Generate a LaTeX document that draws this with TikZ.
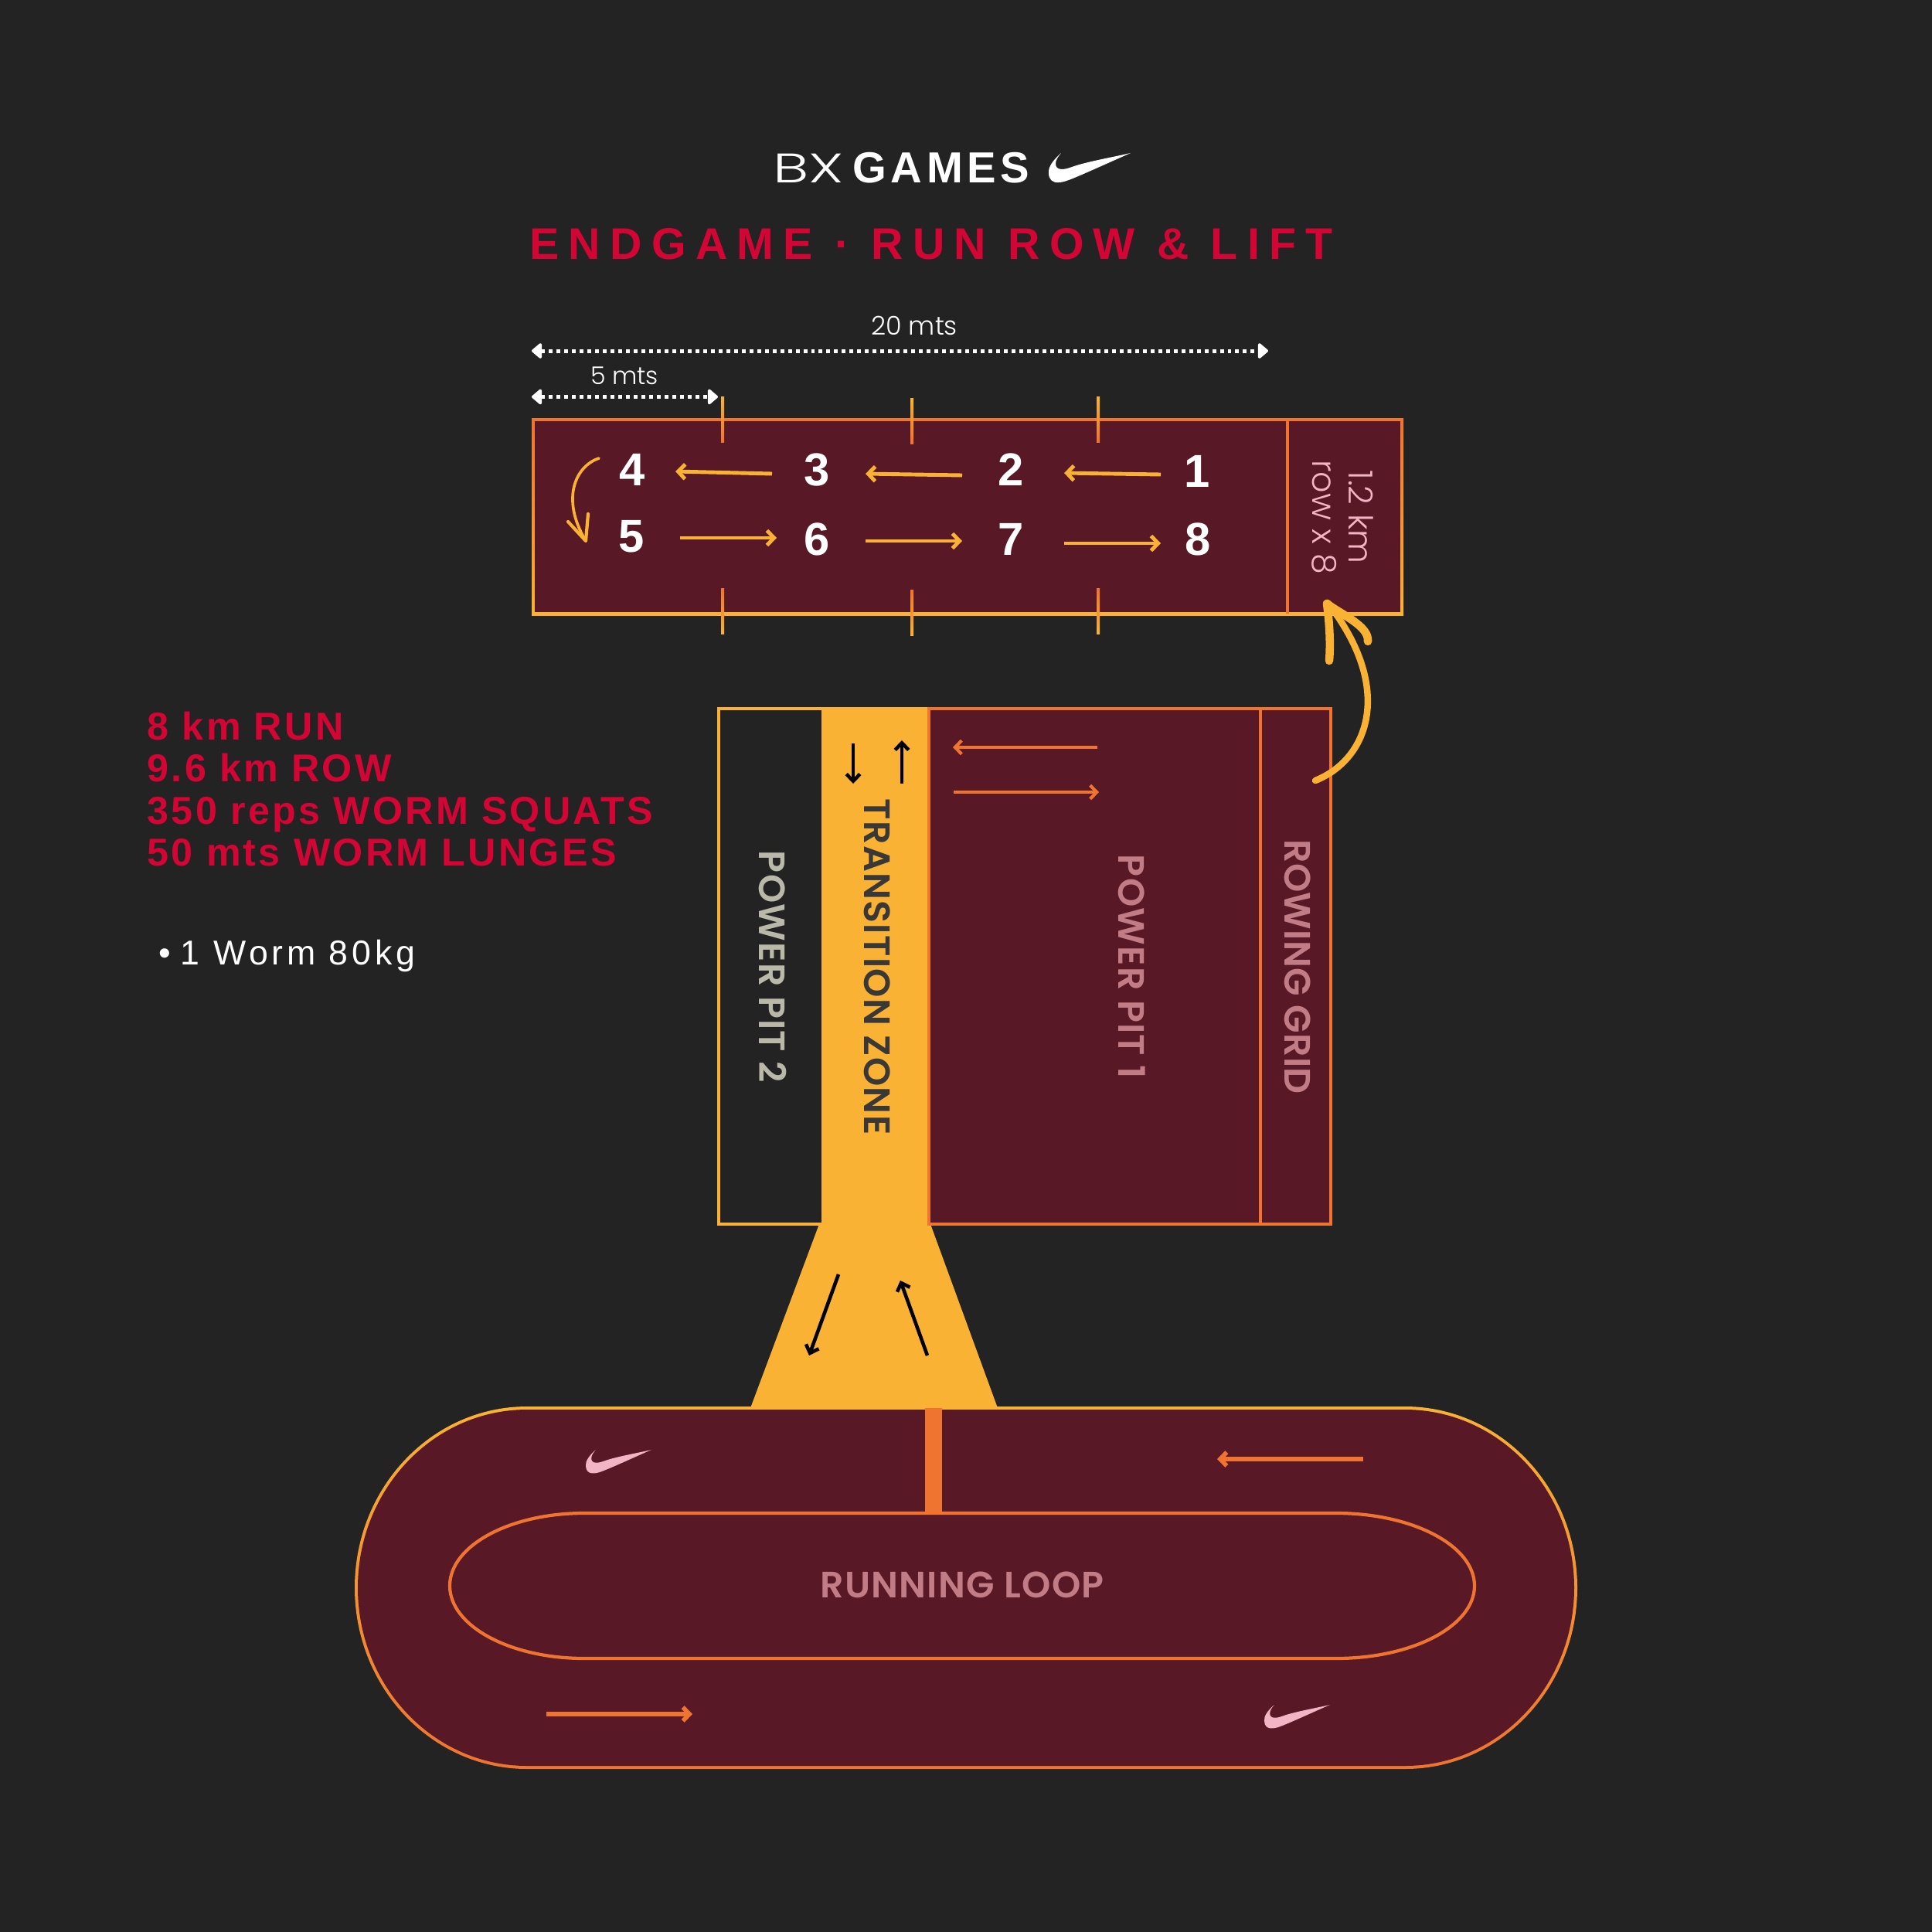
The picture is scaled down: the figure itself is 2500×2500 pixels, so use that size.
\documentclass[tikz,border=0pt]{standalone}
\usepackage{fontspec}
\setmainfont{Liberation Sans}
\newfontfamily\lightfont{Poppins Light}
\newfontfamily\zonefont{Poppins SemiBold}
\usetikzlibrary{arrows.meta}
\definecolor{pagebg}{HTML}{222322}
\definecolor{pitred}{HTML}{581825}
\definecolor{runyellow}{HTML}{F9B233}
\definecolor{runorange}{HTML}{EE7430}
\definecolor{crimson}{HTML}{D30535}
\definecolor{zonepink}{HTML}{C27C85}
\definecolor{softpink}{HTML}{F2B5C5}
\definecolor{zonegrey}{HTML}{B9B8A9}
\definecolor{zonedark}{HTML}{3A3836}

\begin{document}
\begin{tikzpicture}[
    x=0.1mm, y=-0.1mm,
    num/.style={text=white, inner sep=0pt,
                font=\fontsize{17pt}{17pt}\selectfont\bfseries},
    zone/.style={rotate=-90, inner sep=0pt, text=zonepink,
                 font=\fontsize{13.5pt}{14pt}\zonefont\addfontfeature{LetterSpace=2.8}},
    dimtext/.style={text=white, inner sep=0pt, font=\lightfont},
    rowtext/.style={rotate=-90, inner sep=0pt, text=softpink,
                    font=\fontsize{12.2pt}{14pt}\lightfont},
    dimarr/.style={<->, >={Triangle[round,length=4pt,width=6.5pt]}, white,
                   line width=1.42pt, dash pattern=on 1.42pt off 1.42pt},
    arr/.style={->, >={Straight Barb[length=2.6pt,width=5.4pt]},
                line width=1.4pt, runyellow},
    pitarr/.style={->, >={Straight Barb[length=2.4pt,width=5pt]},
                   line width=1.2pt, runorange},
    blackarr/.style={->, >={Straight Barb[length=2.6pt,width=5pt]},
                     line width=1.3pt, black},
    hand/.style={runyellow, line cap=round, line join=round},
    pics/swoosh/.style={code={
      \fill[#1] (16,0) .. controls (6,9) and (-1,18) .. (0,26)
        .. controls (0,34) and (5,39) .. (13,38)
        .. controls (22,38) and (34,32) .. (106,0)
        .. controls (80,6) and (50,11) .. (30,18)
        .. controls (20,22) and (9,23) .. (9,14)
        .. controls (9,9) and (12,5) .. (16,0) -- cycle;
    }}
  ]
  \useasboundingbox (0,0) rectangle (2500,2500);
  \fill[pagebg] (0,0) rectangle (2500,2500);

  % heading
  \node[inner sep=0pt, text=white, font=\fontsize{15.2pt}{16pt}\lightfont] (bx) at (1046,218) {\scalebox{1.45}[1]{BX}};
  \node[inner sep=0pt, text=white, font=\fontsize{16pt}{16pt}\selectfont\bfseries\addfontfeature{LetterSpace=10}]
    (games) at (1218,217) {GAMES};
  \pic at (1357,198) {swoosh=white};
  \node[inner sep=0pt, text=crimson, font=\fontsize{16.3pt}{18pt}\selectfont\bfseries\addfontfeature{LetterSpace=21.5}]
    (title) at (1205,316) {ENDGAME · RUN ROW \& LIFT};

  % left list
  \node[anchor=north west, inner sep=0pt, align=left, text=crimson,
        font=\fontsize{14.3pt}{15.5pt}\selectfont\bfseries\addfontfeature{LetterSpace=6.5}]
    (list) at (190,920) {8 km RUN\\9.6 km ROW\\350 reps WORM SQUATS\\50 mts WORM LUNGES};
  \node[anchor=base west, inner sep=0pt, text=white,
        font=\fontsize{12.7pt}{14pt}\selectfont\addfontfeature{LetterSpace=10.8}]
    (worm) at (205,1248) {•\hspace{3.6pt}1 Worm 80kg};

  % dimensions
  \coordinate (dimA) at (688,454);
  \coordinate (dimB) at (1641,454);
  \coordinate (dimC) at (688,513.5);
  \coordinate (dimD) at (929,513.5);
  \draw[dimarr] (dimA) -- (dimB);
  \draw[dimarr] (dimC) -- (dimD);
  \node[dimtext, font=\fontsize{9.5pt}{12pt}\lightfont] (dim20) at (1183,421) {20 mts};
  \node[dimtext, font=\fontsize{9pt}{12pt}\lightfont] (dim5) at (808,486) {5 mts};

  % rowing box
  \shade[top color=runorange, bottom color=runyellow] (688,541) rectangle (1816,796);
  \fill[pitred] (692,545) rectangle (1812,792);
  \fill[runorange] (1664,543) rectangle (1668,794);
  \foreach \tx/\ty in {935/513,1180/515,1421/513} {
    \shade[top color=runyellow, bottom color=runorange] (\tx-2,\ty) rectangle (\tx+2,\ty+59);
    \shade[top color=runorange, bottom color=runyellow] (\tx-2,\ty+248) rectangle (\tx+2,\ty+307);
  }
  \node[num] (n1) at (1549,610) {1};
  \node[num] (n2) at (1308,608) {2};
  \node[num] (n3) at (1057,608) {3};
  \node[num] (n4) at (818,608) {4};
  \node[num] (n5) at (817,694) {5};
  \node[num] (n6) at (1057,698) {6};
  \node[num] (n7) at (1308,698) {7};
  \node[num] (n8) at (1550,698) {8};
  \draw[arr] ([shift={(-47,4)}]n1.center) -- ([shift={(69,4)}]n2.center);
  \draw[arr] ([shift={(-63,7)}]n2.center) -- ([shift={(63,5)}]n3.center);
  \draw[arr] ([shift={(-58,5)}]n3.center) -- ([shift={(56,2)}]n4.center);
  \draw[arr] ([shift={(63,2)}]n5.center) -- ([shift={(-52,-2)}]n6.center);
  \draw[arr] ([shift={(63,2)}]n6.center) -- ([shift={(-63,2)}]n7.center);
  \draw[arr] ([shift={(69,5)}]n7.center) -- ([shift={(-48,5)}]n8.center);
  \draw[hand, line width=1.05pt] ([shift={(-43,-15)}]n4.center)
    .. controls (745,603) and (725,645) .. ([shift={(-59,6)}]n5.center);
  \draw[hand, line width=1.2pt] (735,675) -- ([shift={(-59,6)}]n5.center) -- (761,665);
  \node[rowtext] (rowkm) at (1761,669) {1.2 km};
  \node[rowtext] (rowx) at (1714,669) {row x 8};

  % zones
  \fill[runyellow] (1063,915) rectangle (1202,1586);
  \fill[runyellow] (1060,1584) -- (1204,1584) -- (1291,1822) -- (971,1822) -- cycle;
  \draw[runyellow, line width=1.1pt, fill=pagebg] (930,917) rectangle (1065,1584);
  \draw[runorange, line width=1.1pt, fill=pitred] (1202,917) rectangle (1722,1584);
  \draw[runorange, line width=1.1pt] (1631,917) -- (1631,1584);
  \node[zone, text=zonegrey] (pit2) at (1000,1251) {POWER PIT 2};
  \node[zone, text=zonedark] (transition) at (1135,1251) {TRANSITION ZONE};
  \node[zone] (pit1) at (1465,1251) {POWER PIT 1};
  \node[zone, font=\fontsize{13.5pt}{14pt}\zonefont\addfontfeature{LetterSpace=0.8}] (rowing) at (1679,1251) {ROWING GRID};
  \draw[pitarr] (1420,967) -- (1233,967);
  \draw[pitarr] (1234,1025) -- (1422,1025);
  \draw[blackarr] (1104,962) -- (1104,1014);
  \draw[blackarr] (1167,1014) -- (1167,958);
  \draw[blackarr] (1085,1649) -- (1047,1754);
  \draw[blackarr] (1200,1754) -- (1165,1657);

  % arrow to the row
  \draw[hand, line width=2.4pt] (1702,1010) .. controls (1772,982) and (1804,890) .. (1718,780);
  \draw[hand, line width=3pt] (1720,855) .. controls (1722,830) and (1720,805) .. (1717,781)
    .. controls (1735,795) and (1772,810) .. (1770,830);

  % running loop
  \shade[top color=runyellow, bottom color=runorange] (682,1820) -- (1818,1820)
    arc[start angle=-90, end angle=90, x radius=223, y radius=234.5]
    -- (682,2289) arc[start angle=90, end angle=270, x radius=223, y radius=234.5] -- cycle;
  \fill[pitred] (682,1824) -- (1818,1824)
    arc[start angle=-90, end angle=90, x radius=219, y radius=230.5]
    -- (682,2285) arc[start angle=90, end angle=270, x radius=219, y radius=230.5] -- cycle;
  \fill[runorange] (1197,1822) rectangle (1219,1958);
  \draw[runorange, line width=1.2pt] (756,1958) -- (1729,1958)
    arc[start angle=-90, end angle=90, x radius=179, y radius=94]
    -- (756,2146) arc[start angle=90, end angle=270, x radius=174, y radius=94] -- cycle;
  \node[inner sep=0pt, text=zonepink, font=\fontsize{13.5pt}{14pt}\zonefont\addfontfeature{LetterSpace=2.8}] (loop) at (1245,2051) {RUNNING LOOP};
  \draw[pitarr, line width=1.6pt] (1764,1888) -- (1575,1888);
  \draw[pitarr, line width=1.6pt] (707,2218) -- (896,2218);
  \pic[scale=0.8] at (758,1876) {swoosh=softpink};
  \pic[scale=0.8] at (1636,2206) {swoosh=softpink};
\end{tikzpicture}
\end{document}
